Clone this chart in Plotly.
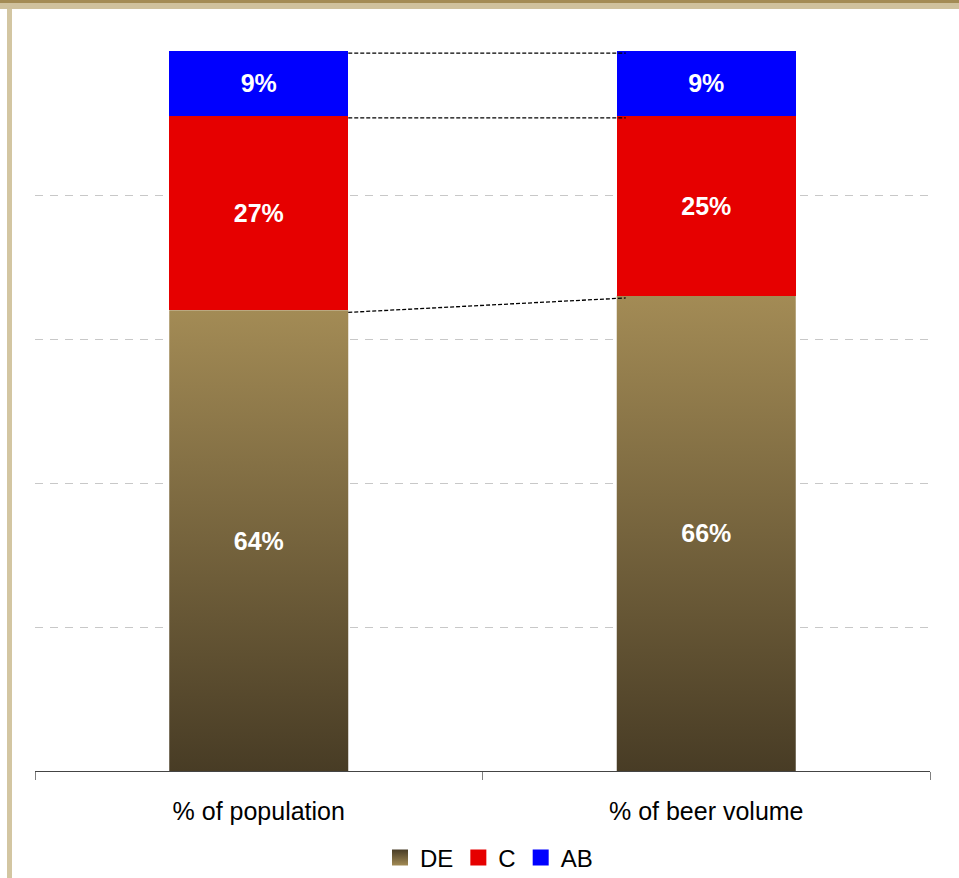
import plotly.graph_objects as go

categories = ["% of population", "% of beer volume"]
series_names = ["DE", "C", "AB"]
de_values = [0.64, 0.66]
c_values = [0.27, 0.25]
ab_values = [0.09, 0.09]

de_top = "#a38b55"
de_bottom = "#483c25"
c_color = "#e60000"
ab_color = "#0000ff"
font_family = "Arial, 'Liberation Sans', sans-serif"

# plot area in pixels
W, H = 959, 878
L, R, T, B = 35, 29, 51, 107
pw = W - L - R
ph = H - T - B

bar_width = 0.4
fig = go.Figure()

# legend-only entries with square swatches
fig.add_trace(go.Scatter(
    x=[None], y=[None], mode="markers", name=series_names[0],
    marker=dict(symbol="square", size=17, color=de_bottom,
                gradient=dict(type="vertical", color=de_top)),
    xaxis="x", yaxis="y", hoverinfo="skip"))
fig.add_trace(go.Scatter(
    x=[None], y=[None], mode="markers", name=series_names[1],
    marker=dict(symbol="square", size=17, color=c_color),
    xaxis="x", yaxis="y", hoverinfo="skip"))
fig.add_trace(go.Scatter(
    x=[None], y=[None], mode="markers", name=series_names[2],
    marker=dict(symbol="square", size=17, color=ab_color),
    xaxis="x", yaxis="y", hoverinfo="skip"))

# gradient DE polygons on the numeric base axis
for i, v in enumerate(de_values):
    x0, x1 = i - bar_width / 2, i + bar_width / 2
    fig.add_trace(go.Scatter(
        x=[x0, x1, x1, x0, x0], y=[0, 0, v, v, 0],
        mode="lines", fill="toself", line=dict(width=0),
        fillgradient=dict(type="vertical",
                          colorscale=[[0, de_bottom], [1, de_top]]),
        name=series_names[0], showlegend=False,
        xaxis="x", yaxis="y", hoverinfo="skip"))

text_font = dict(color="white", size=25, family=font_family, weight="bold")
fig.add_trace(go.Bar(
    x=categories, y=de_values, name=series_names[0], showlegend=False,
    marker=dict(color="rgba(0,0,0,0)", line=dict(width=0)),
    text=[f"{round(v*100)}%" for v in de_values], textposition="inside",
    insidetextanchor="middle", textfont=text_font, constraintext="none",
    xaxis="x2", yaxis="y"))
fig.add_trace(go.Bar(
    x=categories, y=c_values, name=series_names[1], showlegend=False,
    marker=dict(color=c_color, line=dict(width=0)),
    text=[f"{round(v*100)}%" for v in c_values], textposition="inside",
    insidetextanchor="middle", textfont=text_font, constraintext="none",
    xaxis="x2", yaxis="y"))
fig.add_trace(go.Bar(
    x=categories, y=ab_values, name=series_names[2], showlegend=False,
    marker=dict(color=ab_color, line=dict(width=0)),
    text=[f"{round(v*100)}%" for v in ab_values], textposition="inside",
    insidetextanchor="middle", textfont=text_font, constraintext="none",
    xaxis="x2", yaxis="y"))

# connector dashed lines between stacked segment tops
cum1 = [de_values[0], de_values[0] + c_values[0], de_values[0] + c_values[0] + ab_values[0]]
cum2 = [de_values[1], de_values[1] + c_values[1], de_values[1] + c_values[1] + ab_values[1]]
shapes = []
for a, b in zip(cum1, cum2):
    shapes.append(dict(type="line", xref="x", yref="y",
                       x0=bar_width / 2, x1=1 - bar_width / 2 + 0.02,
                       y0=a - 0.003, y1=b - 0.003,
                       line=dict(color="black", width=1.3, dash="4px,2px"), layer="above"))

def px(xp):
    return (xp - L) / pw

def py(yp):
    return (H - B - yp) / ph

# decorative frame
shapes += [
    dict(type="rect", xref="paper", yref="paper", x0=px(0), x1=px(W), y0=py(0), y1=py(3),
         fillcolor="#a38b55", line=dict(width=0), layer="above"),
    dict(type="rect", xref="paper", yref="paper", x0=px(0), x1=px(W), y0=py(3), y1=py(9),
         fillcolor="#cfc19d", line=dict(width=0), layer="above"),
    dict(type="rect", xref="paper", yref="paper", x0=px(7), x1=px(12), y0=py(9), y1=py(H),
         fillcolor="#d3c6a2", line=dict(width=0), layer="above"),
]

fig.update_layout(
    width=W, height=H,
    margin=dict(l=L, r=R, t=T, b=B, pad=0, autoexpand=False),
    paper_bgcolor="white", plot_bgcolor="white",
    barmode="stack", bargap=0.6,
    font=dict(family=font_family, color="black"),
    shapes=shapes,
    showlegend=True,
    legend=dict(orientation="h", x=px(489), xanchor="center", y=py(858), yanchor="middle",
                font=dict(size=24, family=font_family), itemwidth=30,
                bgcolor="rgba(0,0,0,0)", traceorder="normal"),
    xaxis=dict(type="linear", range=[-0.5, 1.5], visible=False, fixedrange=True),
    xaxis2=dict(type="category", overlaying="x", range=[-0.5, 1.5],
                tickson="boundaries", ticks="outside", ticklen=8, tickcolor="#808080",
                showline=True, linecolor="#444444", linewidth=1, showgrid=False,
                tickfont=dict(size=25, family=font_family, color="black"),
                ticklabelstandoff=18, side="bottom"),
    yaxis=dict(range=[0, 1], tickvals=[0.2, 0.4, 0.6, 0.8, 1.0], showticklabels=False,
               showgrid=True, gridcolor="#c8c8c8", griddash="8px,7px", gridwidth=1,
               zeroline=False, showline=False, ticks=""),
)

fig.write_html("out.html", config=dict(displayModeBar=False),
               post_script="document.body.style.margin='0px';")
